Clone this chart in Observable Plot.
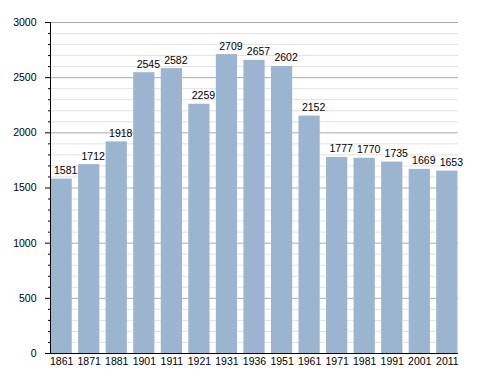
<!DOCTYPE html>
<html><head><meta charset="utf-8">
<script src="https://cdn.jsdelivr.net/npm/d3@7"></script>
<script src="https://cdn.jsdelivr.net/npm/@observablehq/plot@0.6"></script>
<style>body{margin:0;background:#fff}</style>
</head><body><div id="chart"></div>
<script>
const years = ["1861","1871","1881","1901","1911","1921","1931","1936","1951","1961","1971","1981","1991","2001","2011"];
const population = [1581,1712,1918,2545,2582,2259,2709,2657,2602,2152,1777,1770,1735,1669,1653];
const majorTicks = [0,500,1000,1500,2000,2500,3000];
const minorTicks = d3.range(0,3001,100).filter(v => v % 500 !== 0);

const data = years.map((y,i) => ({year: y, value: population[i]}));

const chart = Plot.plot({
  width: 488,
  height: 373,
  marginLeft: 50,
  marginRight: 30,
  marginTop: 22,
  marginBottom: 20,
  style: {fontFamily: "'Liberation Sans', Arial, sans-serif", fontSize: "10.5px", background: "#fff", color: "#000"},
  x: {domain: years, paddingInner: 0.23, paddingOuter: 0.02, round: false, label: null},
  y: {domain: [0,3000], label: null},
  marks: [
    Plot.ruleY(minorTicks, {stroke: "#e2e2e2", strokeWidth: 1}),
    Plot.ruleY(majorTicks.filter(v => v > 0), {stroke: "#ababab", strokeWidth: 1}),
    Plot.barY(data, {x: "year", y: "value", fill: "#9bb4cf", inset: 0}),
    Plot.text(data, {x: "year", y: "value", text: d => String(d.value), dy: -5, dx: 4, lineAnchor: "bottom", fill: "#000", fontSize: 10.5}),
    Plot.axisY({ticks: majorTicks, tickSize: 5, tickPadding: 9, tickFormat: d => String(d), label: null, stroke: "#000", fontSize: 10.5}),
    Plot.axisY({ticks: minorTicks, tickSize: 2, text: null, label: null, stroke: "#000"}),
    Plot.axisX({tickSize: 0, tickPadding: 4, label: null, fontSize: 10.5}),
    Plot.frame({anchor: "left", stroke: "#000"}),
    Plot.ruleY([0], {stroke: "#000", strokeWidth: 1})
  ]
});
document.getElementById("chart").appendChild(chart);
</script>
</body></html>
